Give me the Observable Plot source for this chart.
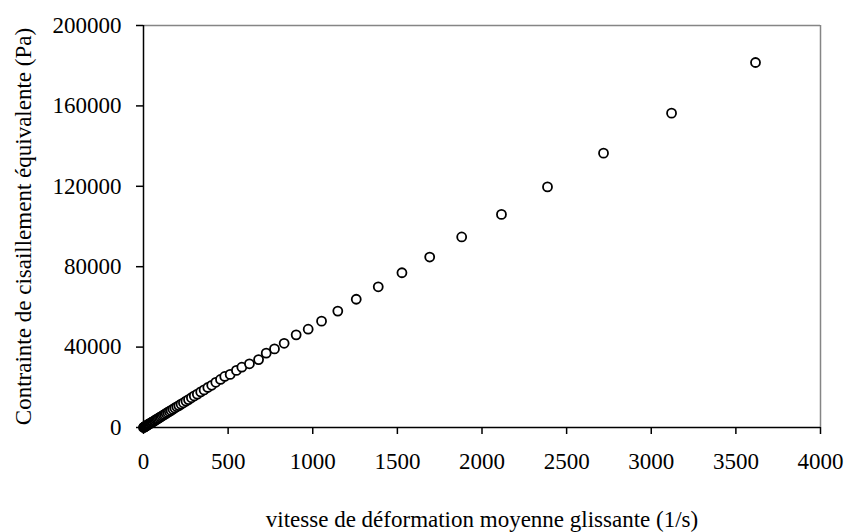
<!DOCTYPE html>
<html>
<head>
<meta charset="utf-8">
<script src="https://cdn.jsdelivr.net/npm/d3@7"></script>
<script src="https://cdn.jsdelivr.net/npm/@observablehq/plot@0.6"></script>
<style>
  html, body { margin: 0; padding: 0; background: #fff; }
  #chart svg { display: block; }
</style>
</head>
<body>
<div id="chart"></div>
<script>
// Shear rate (1/s)
const shearRate = [0, 2, 4, 7, 10, 13, 16, 20, 24, 28, 32, 36, 41, 46, 51, 56, 62, 68, 74, 80,
  87, 94, 101, 109, 117, 125, 134, 143, 153, 163, 174, 185, 197, 209, 222, 236, 251, 266, 283, 300,
  318, 338, 358, 380, 403, 427, 455, 480, 512, 549, 581, 626, 680, 725, 774, 831, 902, 973, 1052, 1148,
  1257, 1387, 1527, 1691, 1880, 2115, 2387, 2718, 3120, 3616];
// Equivalent shear stress (Pa)
const shearStress = [0, 100, 200, 400, 500, 700, 800, 1000, 1300, 1500, 1700, 1900, 2100, 2400, 2700, 2900, 3200, 3500, 3900, 4200,
  4500, 4900, 5300, 5700, 6100, 6500, 7000, 7500, 8000, 8500, 9100, 9700, 10300, 10900, 11600, 12300, 13100, 13900, 14800, 15700,
  16600, 17700, 18700, 19900, 21000, 22500, 23900, 25400, 26400, 28400, 30000, 31700, 33800, 37000, 39100, 41900, 46100, 48900, 52900, 57900,
  63800, 70000, 77000, 84800, 94800, 106000, 119700, 136500, 156400, 181600];
const xTicks = [0, 500, 1000, 1500, 2000, 2500, 3000, 3500, 4000];
const yTicks = [0, 40000, 80000, 120000, 160000, 200000];
const xTitle = "vitesse de déformation moyenne glissante (1/s)";
const yTitle = "Contrainte de cisaillement équivalente (Pa)";

const data = shearRate.map((x, i) => ({x, y: shearStress[i]}));

const chart = Plot.plot({
  width: 846,
  height: 532,
  marginLeft: 143,
  marginRight: 26,
  marginTop: 25,
  marginBottom: 105,
  style: {fontFamily: "'Liberation Serif', 'Times New Roman', serif", fontSize: "23px", color: "#000", background: "#fff"},
  x: {domain: [0, 4000]},
  y: {domain: [0, 200000]},
  marks: [
    Plot.ruleY([yTicks[yTicks.length - 1]], {stroke: "#858585", strokeWidth: 1.5}),
    Plot.ruleX([xTicks[xTicks.length - 1]], {stroke: "#858585", strokeWidth: 1.5}),
    Plot.axisX({ticks: xTicks, tickSize: 7, tickPadding: 18, strokeWidth: 1.5, tickFormat: d => String(d),
      label: xTitle, labelAnchor: "center", labelArrow: false, labelOffset: 99, fontSize: 23}),
    Plot.axisY({ticks: yTicks, tickSize: 7, tickPadding: 15, strokeWidth: 1.5, tickFormat: d => String(d),
      label: yTitle, labelAnchor: "center", labelArrow: false, labelOffset: 129, fontSize: 23}),
    Plot.ruleX([0], {stroke: "#000", strokeWidth: 1.5}),
    Plot.ruleY([0], {stroke: "#000", strokeWidth: 1.5}),
    Plot.dot(data, {x: "x", y: "y", r: 4.5, stroke: "#000", strokeWidth: 1.8, fill: "#fff"})
  ]
});
document.getElementById("chart").appendChild(chart);
</script>
</body>
</html>
